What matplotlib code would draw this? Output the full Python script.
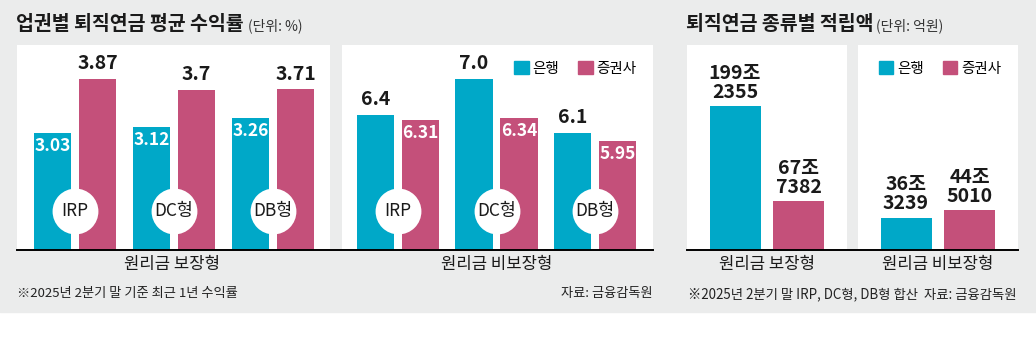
import matplotlib
matplotlib.use("Agg")
import matplotlib.pyplot as plt
from matplotlib.patches import Rectangle, Patch
from matplotlib.lines import Line2D

# data
types = ["IRP", "DC형", "DB형"]
bank_guar = [3.03, 3.12, 3.26]
sec_guar = [3.87, 3.70, 3.71]
bank_guar_lbl = ["3.03", "3.12", "3.26"]
sec_guar_lbl = ["3.87", "3.7", "3.71"]
bank_nonguar = [6.4, 7.0, 6.1]
sec_nonguar = [6.31, 6.34, 5.95]
bank_nonguar_lbl = ["6.4", "7.0", "6.1"]
sec_nonguar_lbl = ["6.31", "6.34", "5.95"]

kinds = ["원리금 보장형", "원리금 비보장형"]
bank_amt = [1992355, 363239]   # 억원
sec_amt = [677382, 445010]

TEAL = "#00a8c8"
PINK = "#c4507a"
GRAY = "#ebecec"
INK = "#1a1a1a"

KR = ["Noto Sans CJK KR", "DejaVu Sans"]
NUM = ["DejaVu Sans Condensed", "Noto Sans CJK KR", "DejaVu Sans"]
plt.rcParams["font.family"] = KR

W, H = 1036, 351
def fx(x): return x / W
def fy(y): return 1 - y / H

fig = plt.figure(figsize=(W / 100, H / 100), dpi=100)
fig.patch.set_facecolor("white")
fig.add_artist(Rectangle((0, fy(312)), 1, 1 - fy(312), transform=fig.transFigure,
                         color=GRAY, zorder=-10))

def panel(x0, x1, y0=45, y1=250):
    ax = fig.add_axes([fx(x0), fy(y1), fx(x1) - fx(x0), fy(y0) - fy(y1)])
    ax.set_facecolor("white")
    for sp in ax.spines.values():
        sp.set_visible(False)
    ax.set_xticks([])
    ax.set_yticks([])
    return ax

def value_label(ax, x, v, s, inside):
    if inside:
        ax.annotate(s, (x, v), xytext=(0, -9), textcoords="offset points",
                    ha="center", va="center", color="white", fontsize=12.5,
                    fontweight="bold", family=NUM)
    else:
        ax.annotate(s, (x, v), xytext=(0, 11), textcoords="offset points",
                    ha="center", va="center", color=INK, fontsize=14,
                    fontweight="bold", family=NUM)

def rate_panel(ax, bank, sec, bank_lbl, sec_lbl, ylim, bank_inside):
    x = range(len(types))
    bw, off = 0.38, 0.228
    xb = [i - off for i in x]
    xs = [i + off for i in x]
    ax.bar(xb, bank, bw, color=TEAL)
    ax.bar(xs, sec, bw, color=PINK)
    ax.set_ylim(*ylim)
    for xi, v, s in zip(xb, bank, bank_lbl):
        value_label(ax, xi, v, s, bank_inside)
    for xi, v, s in zip(xs, sec, sec_lbl):
        value_label(ax, xi, v, s, not bank_inside)
    tr = ax.get_xaxis_transform()
    ax.plot(list(x), [0.19] * len(types), "o", ms=33, color="white", mec="none",
            transform=tr, zorder=3)
    for i, t in zip(x, types):
        ax.text(i, 0.19, t, transform=tr, ha="center", va="center", fontsize=12.5,
                color=INK, zorder=4)

# left block: returns
ax1 = panel(17, 330)
ax1.set_xlim(-0.586, 2.576)
rate_panel(ax1, bank_guar, sec_guar, bank_guar_lbl, sec_guar_lbl, (1.21, 4.40), True)

ax2 = panel(342, 653)
ax2.set_xlim(-0.569, 2.588)
rate_panel(ax2, bank_nonguar, sec_nonguar, bank_nonguar_lbl, sec_nonguar_lbl,
           (4.126, 7.571), False)

handles = [Patch(color=TEAL, label="은행"), Patch(color=PINK, label="증권사")]
legend_kw = dict(ncol=2, frameon=False, fontsize=10.5, handlelength=1.0, handleheight=1.0,
                 handletextpad=0.25, columnspacing=1.3, borderaxespad=0)
ax2.legend(handles=handles, loc="upper right", bbox_to_anchor=(0.965, 0.95), **legend_kw)

# right block: amounts (조 단위로 그림)
ylims_amt = [(0, 283), (0, 230)]
for j, (x0, x1) in enumerate([(687, 847), (858, 1018)]):
    ax = panel(x0, x1)
    ax.set_xlim(0, 160)
    ax.set_ylim(*ylims_amt[j])
    vals = [bank_amt[j] / 10000, sec_amt[j] / 10000]
    raw = [bank_amt[j], sec_amt[j]]
    ax.bar([48, 111.5], vals, 51, color=[TEAL, PINK])
    for xi, v, r in zip([48, 111.5], vals, raw):
        ax.annotate(f"{r // 10000}조\n{r % 10000}", (xi, v), xytext=(0, 3),
                    textcoords="offset points", ha="center", va="bottom",
                    fontsize=14, fontweight="bold", family=NUM, color=INK,
                    linespacing=1.0)
    if j == 1:
        ax.legend(handles=handles, loc="upper right", bbox_to_anchor=(0.93, 0.95),
                  **legend_kw)

# baselines
for a, b in [(17, 653), (687, 1018)]:
    fig.add_artist(Line2D([fx(a), fx(b)], [fy(250)] * 2, color="black", lw=1.4))

# category labels
for cx, t in [(172, kinds[0]), (497, kinds[1]), (767, kinds[0]), (938, kinds[1])]:
    fig.text(fx(cx), fy(264), t, ha="center", va="center", fontsize=12, color=INK,
             fontweight="medium")

# titles
fig.text(fx(16), fy(25), "업권별 퇴직연금 평균 수익률", ha="left", va="center",
         fontsize=14, fontweight="bold", color=INK)
fig.text(fx(248), fy(26), "(단위: %)", ha="left", va="center", fontsize=10, color="#333333")
fig.text(fx(686), fy(25), "퇴직연금 종류별 적립액", ha="left", va="center",
         fontsize=14, fontweight="bold", color=INK)
fig.text(fx(876), fy(26), "(단위: 억원)", ha="left", va="center", fontsize=10, color="#333333")

# footnotes
fig.text(fx(17), fy(294), "※2025년 2분기 말 기준 최근 1년 수익률", ha="left", va="center",
         fontsize=9.5, color="#222222")
fig.text(fx(653), fy(294), "자료: 금융감독원", ha="right", va="center", fontsize=9.5,
         color="#222222")
fig.text(fx(688), fy(294), "※2025년 2분기 말 IRP, DC형, DB형 합산  자료: 금융감독원",
         ha="left", va="center", fontsize=9.6, color="#222222")

fig.savefig("out.png", dpi=100)
